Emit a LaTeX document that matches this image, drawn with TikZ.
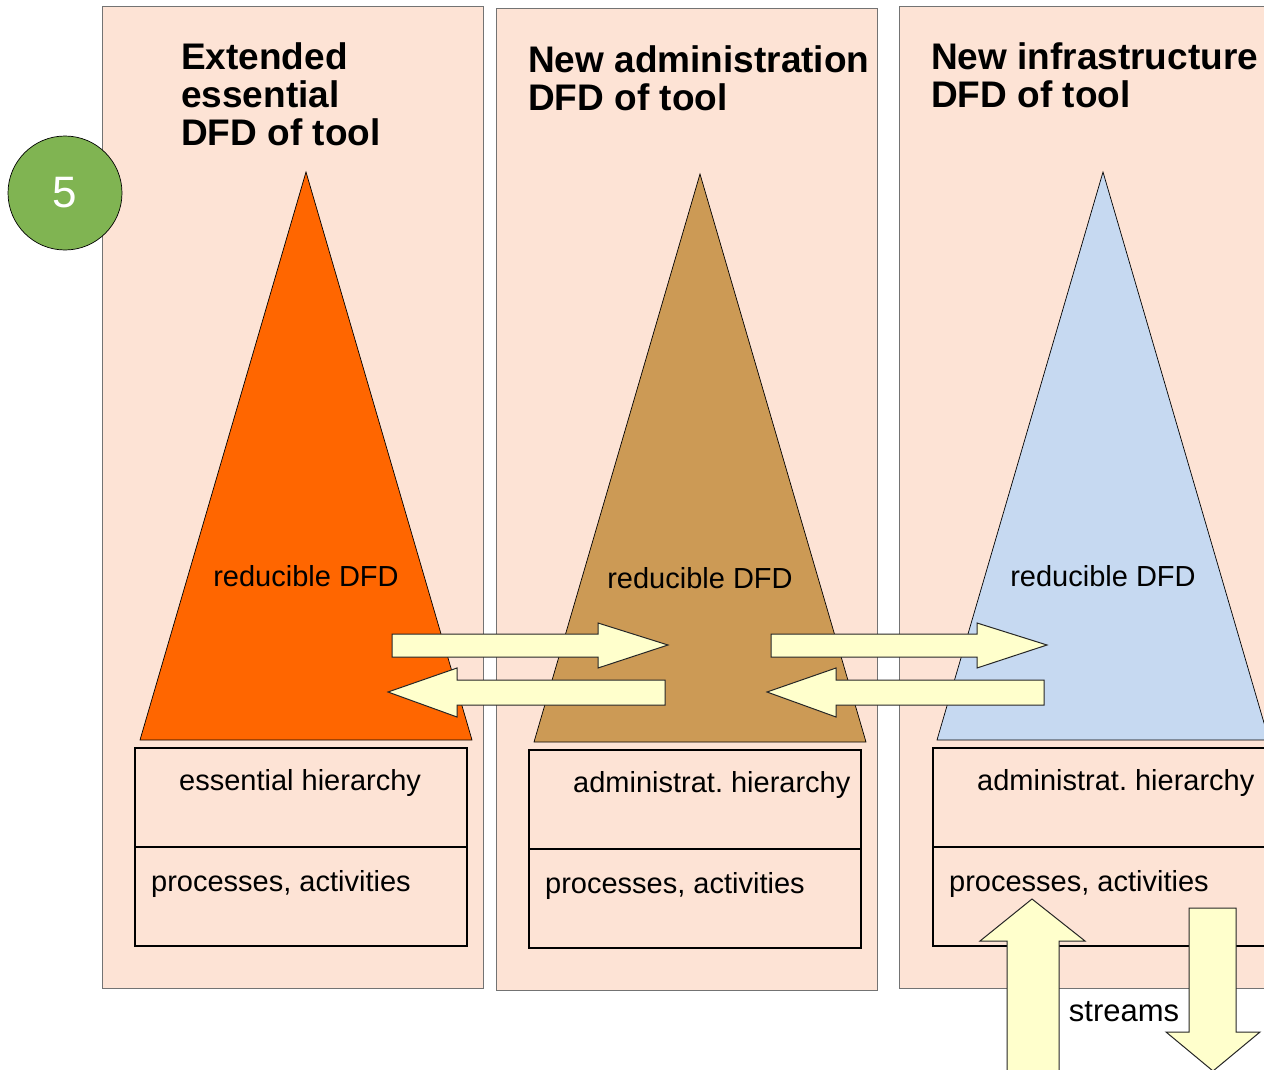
\documentclass[tikz,border=0pt]{standalone}
\usepackage{fontspec}
\setmainfont{Liberation Sans}
\frenchspacing
\definecolor{panelfill}{HTML}{FDE3D5}
\definecolor{essorange}{HTML}{FF6600}
\definecolor{admbrown}{HTML}{CC9A55}
\definecolor{infblue}{HTML}{C6D9F1}
\definecolor{numgreen}{HTML}{80B452}
\definecolor{flowfill}{HTML}{FFFFCC}
\tikzset{
  panel/.style={draw=black!55, fill=panelfill, line width=0.8pt},
  dfd/.style={draw=black, line width=0.7pt},
  hier/.style={draw=black, line width=2.4pt},
  flow/.style={draw=black!85, fill=flowfill, line width=1pt, line join=miter},
  title/.style={anchor=base west, align=left, inner sep=0pt, font=\fontsize{37}{38}\selectfont\bfseries},
  txt/.style={inner sep=0pt, font=\fontsize{29}{34}\selectfont},
}
\begin{document}
\begin{tikzpicture}[x=1pt,y=-1pt]
\useasboundingbox (0,0) rectangle (1264,1070);
% columns
\draw[panel] (102,6) rectangle (483,988);
\draw[panel] (496,8) rectangle (877,990);
\draw[panel] (899,6) rectangle (1290,988);
% triangles
\draw[dfd, fill=essorange] (306,172) -- (472,740) -- (140,740) -- cycle;
\draw[dfd, fill=admbrown] (700,174) -- (866,742) -- (534,742) -- cycle;
\draw[dfd, fill=infblue] (1103,172) -- (1269,740) -- (937,740) -- cycle;
% hierarchy boxes
\draw[hier] (135,748) rectangle (467,946) (135,847) -- (467,847);
\draw[hier] (529,750) rectangle (861,948) (529,849) -- (861,849);
\draw[hier] (933,748) rectangle (1300,946) (933,847) -- (1300,847);
% arrows between columns
\foreach \dx in {0,379} {
  \draw[flow] (392+\dx,634) -- (598+\dx,634) -- (598+\dx,623) -- (668+\dx,645)
    -- (598+\dx,668) -- (598+\dx,657) -- (392+\dx,657) -- cycle;
  \draw[flow] (665+\dx,680) -- (457+\dx,680) -- (457+\dx,668) -- (388+\dx,692)
    -- (457+\dx,717) -- (457+\dx,705) -- (665+\dx,705) -- cycle;
}
% streams
\draw[flow] (1007,1090) -- (1007,941) -- (980,941) -- (1032,899) -- (1085,941)
  -- (1059,941) -- (1059,1090);
\draw[flow] (1189,908) -- (1236,908) -- (1236,1032) -- (1260,1032) -- (1213,1071)
  -- (1166,1032) -- (1189,1032) -- cycle;
% texts
\node[title] (ttlEss) at (181,146) {Extended\\essential\\DFD of tool};
\node[title] (ttlAdm) at (528,111) {New administration\\DFD of tool};
\node[title] (ttlInf) at (931,108) {New infrastructure\\DFD of tool};
\node[txt, anchor=base] (redEss) at (306,586) {reducible DFD};
\node[txt, anchor=base] (redAdm) at (700,588) {reducible DFD};
\node[txt, anchor=base] (redInf) at (1103,586) {reducible DFD};
\node[txt, anchor=base west] (hierEss) at (179,790) {essential hierarchy};
\node[txt, anchor=base west] (procEss) at (151,891) {processes, activities};
\node[txt, anchor=base west] (hierAdm) at (573,792) {administrat. hierarchy};
\node[txt, anchor=base west] (procAdm) at (545,893) {processes, activities};
\node[txt, anchor=base west] (hierInf) at (977,790) {administrat. hierarchy};
\node[txt, anchor=base west] (procInf) at (949,891) {processes, activities};
\node[txt, anchor=base, font=\fontsize{31}{34}\selectfont] (streams) at (1124,1021) {streams};
% step number
\node[circle, draw=black, line width=0.7pt, fill=numgreen, minimum size=114pt, inner sep=0pt,
  text=white, font=\fontsize{44}{44}\selectfont] (num) at (65,193) {5};
\end{tikzpicture}
\end{document}
